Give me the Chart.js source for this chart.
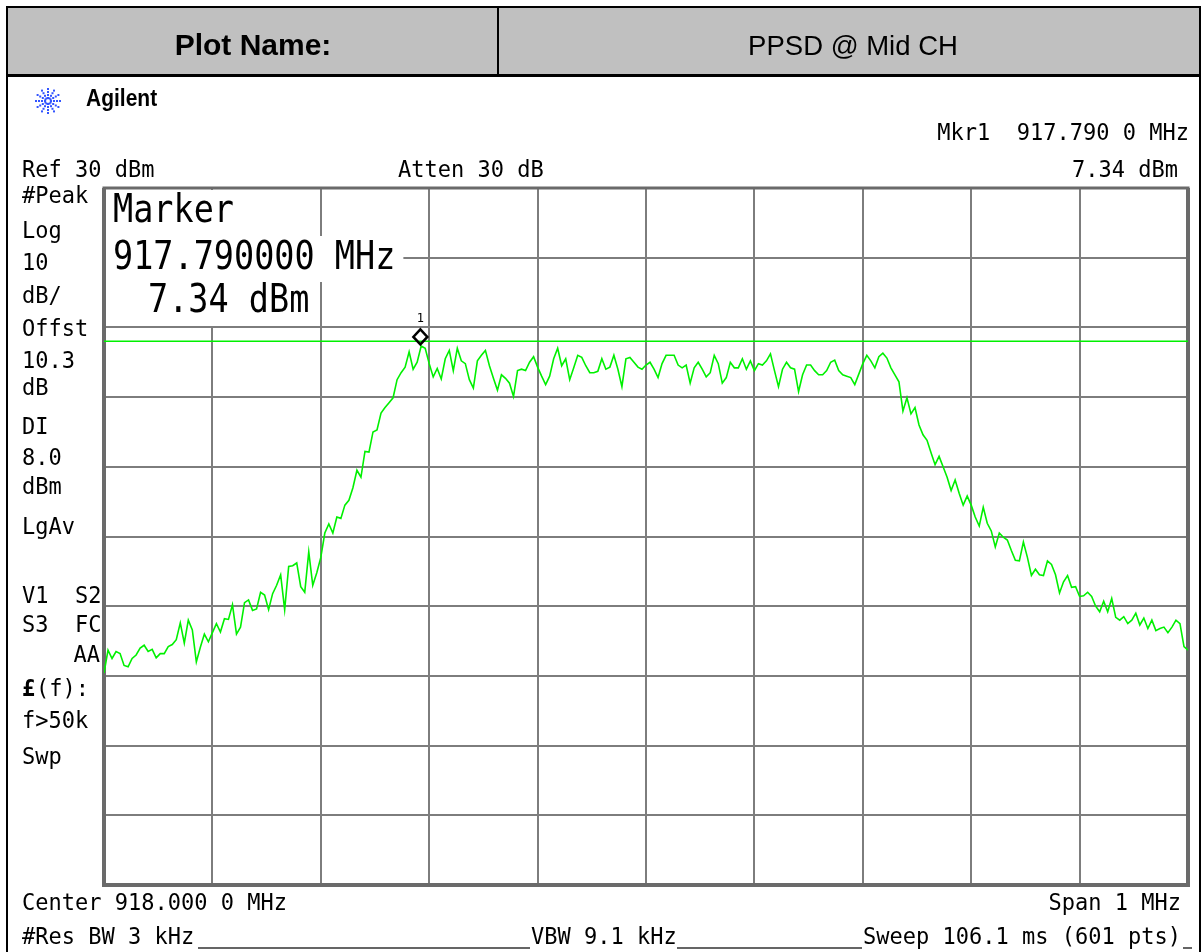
<!DOCTYPE html>
<html><head><meta charset="utf-8">
<script src="https://cdn.jsdelivr.net/npm/chart.js@4.4.1/dist/chart.umd.min.js"></script>
<style>html,body{margin:0;padding:0;background:#fff;overflow:hidden}canvas{display:block}</style>
</head><body>
<canvas id="c" width="1204" height="952"></canvas>
<script>
// ---- data ----
const levels = [
-39.6,-36.3,-37.5,-36.5,-36.8,-38.5,-38.7,-37.5,-37.0,-36.0,
-35.6,-36.5,-36.2,-37.4,-36.8,-36.8,-35.8,-35.5,-34.8,-32.4,
-35.3,-32.0,-33.4,-38.0,-35.9,-34.0,-35.1,-33.8,-32.5,-33.7,
-31.8,-31.9,-29.8,-34.0,-33.0,-29.5,-29.1,-30.6,-30.4,-28.0,
-28.4,-30.5,-28.2,-27.0,-25.5,-30.5,-24.3,-24.2,-23.8,-27.2,
-28.0,-22.2,-27.0,-25.2,-23.0,-19.5,-18.2,-19.5,-17.2,-17.4,
-15.5,-14.8,-13.0,-10.5,-11.5,-7.8,-7.9,-5.0,-4.7,-2.3,
-1.5,-0.8,-0.1,2.5,3.5,4.3,6.5,4.0,5.0,7.34,
7.0,4.8,2.9,4.1,2.6,5.5,6.7,3.8,7.0,5.2,
4.8,2.5,1.3,5.2,6.0,6.7,4.5,2.7,1.0,3.2,
2.7,2.0,0.1,3.8,4.0,3.8,5.0,5.8,4.3,3.0,
1.8,3.0,5.5,7.0,4.5,5.5,2.5,4.2,6.0,5.7,
4.5,3.5,3.5,3.7,5.5,4.0,4.3,6.0,4.0,1.5,
5.5,5.7,5.0,4.3,4.0,4.6,5.0,4.0,2.8,4.8,
6.0,6.0,6.0,4.6,4.2,4.6,2.0,4.2,5.0,4.0,
2.9,3.5,6.0,4.8,2.0,2.8,5.0,4.2,4.2,5.5,
4.0,5.2,3.8,4.8,4.6,5.2,6.2,3.8,1.5,4.0,
5.0,4.2,4.0,0.8,3.2,4.6,4.6,3.8,3.2,3.2,
3.8,5.0,5.3,3.8,3.2,3.0,2.8,1.8,3.3,4.8,
6.0,5.2,4.2,5.8,6.3,5.6,4.2,3.2,2.2,-2.0,
-0.1,-2.4,-1.5,-4.0,-5.4,-6.2,-8.0,-9.7,-8.5,-10.0,
-11.5,-13.4,-11.9,-13.8,-15.5,-14.2,-15.5,-17.2,-18.5,-15.8,
-18.1,-19.2,-21.5,-19.5,-20.1,-20.5,-22.0,-23.4,-23.5,-20.8,
-23.0,-25.6,-24.7,-25.5,-25.6,-23.5,-24.0,-25.5,-28.1,-26.5,
-25.6,-27.3,-27.2,-28.6,-28.5,-28.0,-28.6,-30.0,-30.8,-29.3,
-30.8,-28.9,-31.6,-32.0,-31.5,-32.5,-32.0,-31.0,-32.7,-31.7,
-33.2,-32.0,-33.5,-33.2,-33.0,-33.8,-33.0,-32.0,-32.5,-35.8,
-36.3
];
const freqRangeMHz = [917.5, 918.5];
const freqDivisions = [917.5,917.6,917.7,917.8,917.9,918.0,918.1,918.2,918.3,918.4,918.5];
const levelDivisions = [-70,-60,-50,-40,-30,-20,-10,0,10,20,30];
const markerFreqMHz = [917.79];
const markerLevelDbm = [7.34];
const displayLineDbm = [8.0];
const markerNumber = ['1'];
const headerLabels = ['Plot Name:', 'PPSD @ Mid CH'];
const brandLabel = ['Agilent'];
const topLabels = ['Mkr1  917.790 0 MHz', 'Ref 30 dBm', 'Atten 30 dB', '7.34 dBm'];
const leftPanel = ['#Peak','Log','10','dB/','Offst','10.3','dB','DI','8.0','dBm','LgAv','V1  S2','S3  FC','AA','(f):','f>50k','Swp'];
const markerBox = ['Marker', '917.790000 MHz', '7.34 dBm'];
const bottomLabels = ['Center 918.000 0 MHz', 'Span 1 MHz', '#Res BW 3 kHz', 'VBW 9.1 kHz', 'Sweep 106.1 ms (601 pts)'];

// ---- build ----
const N = levels.length;
const f0 = freqRangeMHz[0], f1 = freqRangeMHz[1];
const traceData = levels.map((v, i) => ({x: f0 + (f1 - f0) * i / (N - 1), y: v}));
const dlData = [{x: f0, y: displayLineDbm[0]}, {x: f1, y: displayLineDbm[0]}];

const MONO = "'DejaVu Sans Mono', monospace";
const SANS = "'Liberation Sans', Arial, sans-serif";

function txt(ctx, s, x, y, font, align, sy) {
  ctx.save();
  ctx.font = font;
  ctx.textAlign = align || 'left';
  ctx.textBaseline = 'middle';
  ctx.fillStyle = '#000';
  if (sy && sy !== 1) { ctx.translate(x, y); ctx.scale(1, sy); ctx.fillText(s, 0, 0); }
  else ctx.fillText(s, x, y);
  ctx.restore();
}

const deco = {
  id: 'deco',
  beforeDraw(chart) {
    const ctx = chart.ctx;
    ctx.save();
    ctx.fillStyle = '#fff';
    ctx.fillRect(0, 0, chart.width, chart.height);
    // header
    ctx.fillStyle = '#c0c0c0';
    ctx.fillRect(8, 8, 1192, 67);
    ctx.strokeStyle = '#000';
    ctx.lineWidth = 2;
    ctx.beginPath();
    ctx.moveTo(7, 952); ctx.lineTo(7, 7); ctx.lineTo(1200, 7); ctx.lineTo(1200, 952);
    ctx.stroke();
    ctx.lineWidth = 3;
    ctx.beginPath(); ctx.moveTo(7, 75.5); ctx.lineTo(1200, 75.5); ctx.stroke();
    ctx.lineWidth = 2;
    ctx.beginPath(); ctx.moveTo(498, 7); ctx.lineTo(498, 75); ctx.stroke();
    txt(ctx, headerLabels[0], 253, 47, 'bold 30px ' + SANS, 'center', 1.0);
    txt(ctx, headerLabels[1], 853, 47, '27.5px ' + SANS, 'center', 1.0);
    // Agilent logo (starburst)
    ctx.fillStyle = '#3355ff';
    const cx = 48, cy = 101;
    for (let a = 0; a < 12; a++) {
      const ang = a * Math.PI / 6;
      for (let r = 3; r <= 12; r += 3) {
        ctx.fillRect(cx + Math.cos(ang) * r - 1, cy + Math.sin(ang) * r - 1, 2, 2);
      }
    }
    txt(ctx, brandLabel[0], 86, 100, 'bold 21px ' + SANS, 'left', 1.12);
    // top labels
    const F = '22px ' + MONO;
    txt(ctx, topLabels[0], 1189, 134, F, 'right', 1.05);
    txt(ctx, topLabels[1], 22, 171, F, 'left', 1.05);
    txt(ctx, topLabels[2], 398, 171, F, 'left', 1.05);
    txt(ctx, topLabels[3], 1178, 171, F, 'right', 1.05);
    // left panel
    const ly = [197,232,264,297,330,362,389,428,459,488,528,597,626,656,690,722,758];
    leftPanel.forEach((s, k) => {
      if (s === 'AA') txt(ctx, s, 100, ly[k], F, 'right', 1.05);
      else if (s === '(f):') {
        txt(ctx, '\u00a3', 22, ly[k], 'bold 22px ' + MONO, 'left', 1.05);
        txt(ctx, s, 36, ly[k], F, 'left', 1.05);
      } else txt(ctx, s, 22, ly[k], F, 'left', 1.05);
    });
    // bottom labels
    txt(ctx, bottomLabels[0], 22, 904, F, 'left', 1.05);
    txt(ctx, bottomLabels[1], 1181, 904, F, 'right', 1.05);
    txt(ctx, bottomLabels[2], 22, 938, F, 'left', 1.05);
    txt(ctx, bottomLabels[3], 531, 938, F, 'left', 1.05);
    txt(ctx, bottomLabels[4], 1181, 938, F, 'right', 1.05);
    ctx.strokeStyle = '#333';
    ctx.lineWidth = 1.5;
    ctx.beginPath();
    ctx.moveTo(198, 948); ctx.lineTo(530, 948);
    ctx.moveTo(677, 948); ctx.lineTo(862, 948);
    ctx.moveTo(1183, 948); ctx.lineTo(1192, 948);
    ctx.stroke();
    ctx.restore();
  },
  beforeDatasetsDraw(chart) {
    const ctx = chart.ctx, a = chart.chartArea;
    ctx.save();
    // marker readout boxes (white behind text)
    const MF = '33.5px ' + MONO;
    const rows = [[markerBox[0], 113, 212, 190, 236], [markerBox[1], 113, 259, 236, 282], [markerBox[2], 148, 302, 282, 326]];
    ctx.font = MF;
    ctx.fillStyle = '#fff';
    rows.forEach(r => {
      const w = ctx.measureText(r[0]).width;
      ctx.fillRect(a.left + 2, r[3], r[1] - a.left + w + 6, r[4] - r[3]);
    });
    // graticule frame
    ctx.strokeStyle = '#6a6a6a';
    ctx.lineWidth = 3;
    ctx.strokeRect(a.left, a.top, a.right - a.left, a.bottom - a.top);
    ctx.lineWidth = 4;
    ctx.beginPath();
    ctx.moveTo(a.left, a.top); ctx.lineTo(a.left, a.bottom + 2);
    ctx.moveTo(a.right, a.top); ctx.lineTo(a.right, a.bottom + 2);
    ctx.moveTo(a.left - 2, a.bottom); ctx.lineTo(a.right + 2, a.bottom);
    ctx.stroke();
    rows.forEach(r => txt(ctx, r[0], r[1], r[2], MF, 'left', 1.15));
    ctx.restore();
  },
  afterDatasetsDraw(chart) {
    const ctx = chart.ctx;
    const px = chart.scales.x.getPixelForValue(markerFreqMHz[0]) + 2;
    const py = chart.scales.y.getPixelForValue(markerLevelDbm[0]);
    ctx.save();
    ctx.strokeStyle = '#000';
    ctx.lineWidth = 2.5;
    const cy = py - 9;
    ctx.beginPath();
    ctx.moveTo(px, cy - 7.5); ctx.lineTo(px + 7, cy); ctx.lineTo(px, cy + 7.5); ctx.lineTo(px - 7, cy); ctx.closePath();
    ctx.stroke();
    txt(ctx, markerNumber[0], px, cy - 18, '12px ' + MONO, 'center');
    ctx.restore();
  }
};

const gridOpts = {color: '#7d7d7d', lineWidth: 2, drawTicks: false};
new Chart(document.getElementById('c'), {
  type: 'line',
  data: {datasets: [
    {data: traceData, borderColor: '#00f000', borderWidth: 1.6, pointRadius: 0, tension: 0, fill: false},
    {data: dlData, borderColor: '#00f000', borderWidth: 1.5, pointRadius: 0, tension: 0, fill: false}
  ]},
  options: {
    responsive: false, animation: false, devicePixelRatio: 1, events: [],
    layout: {padding: {left: 104, top: 188, right: 16, bottom: 67}},
    plugins: {legend: {display: false}, tooltip: {enabled: false}},
    scales: {
      x: {type: 'linear', min: f0, max: f1, ticks: {display: false}, grid: gridOpts, border: {display: false},
          afterBuildTicks: s => { s.ticks = freqDivisions.map(v => ({value: v})); }},
      y: {type: 'linear', min: levelDivisions[0], max: levelDivisions[levelDivisions.length - 1], ticks: {display: false}, grid: gridOpts, border: {display: false},
          afterBuildTicks: s => { s.ticks = levelDivisions.map(v => ({value: v})); }}
    }
  },
  plugins: [deco]
});
</script>
</body></html>
